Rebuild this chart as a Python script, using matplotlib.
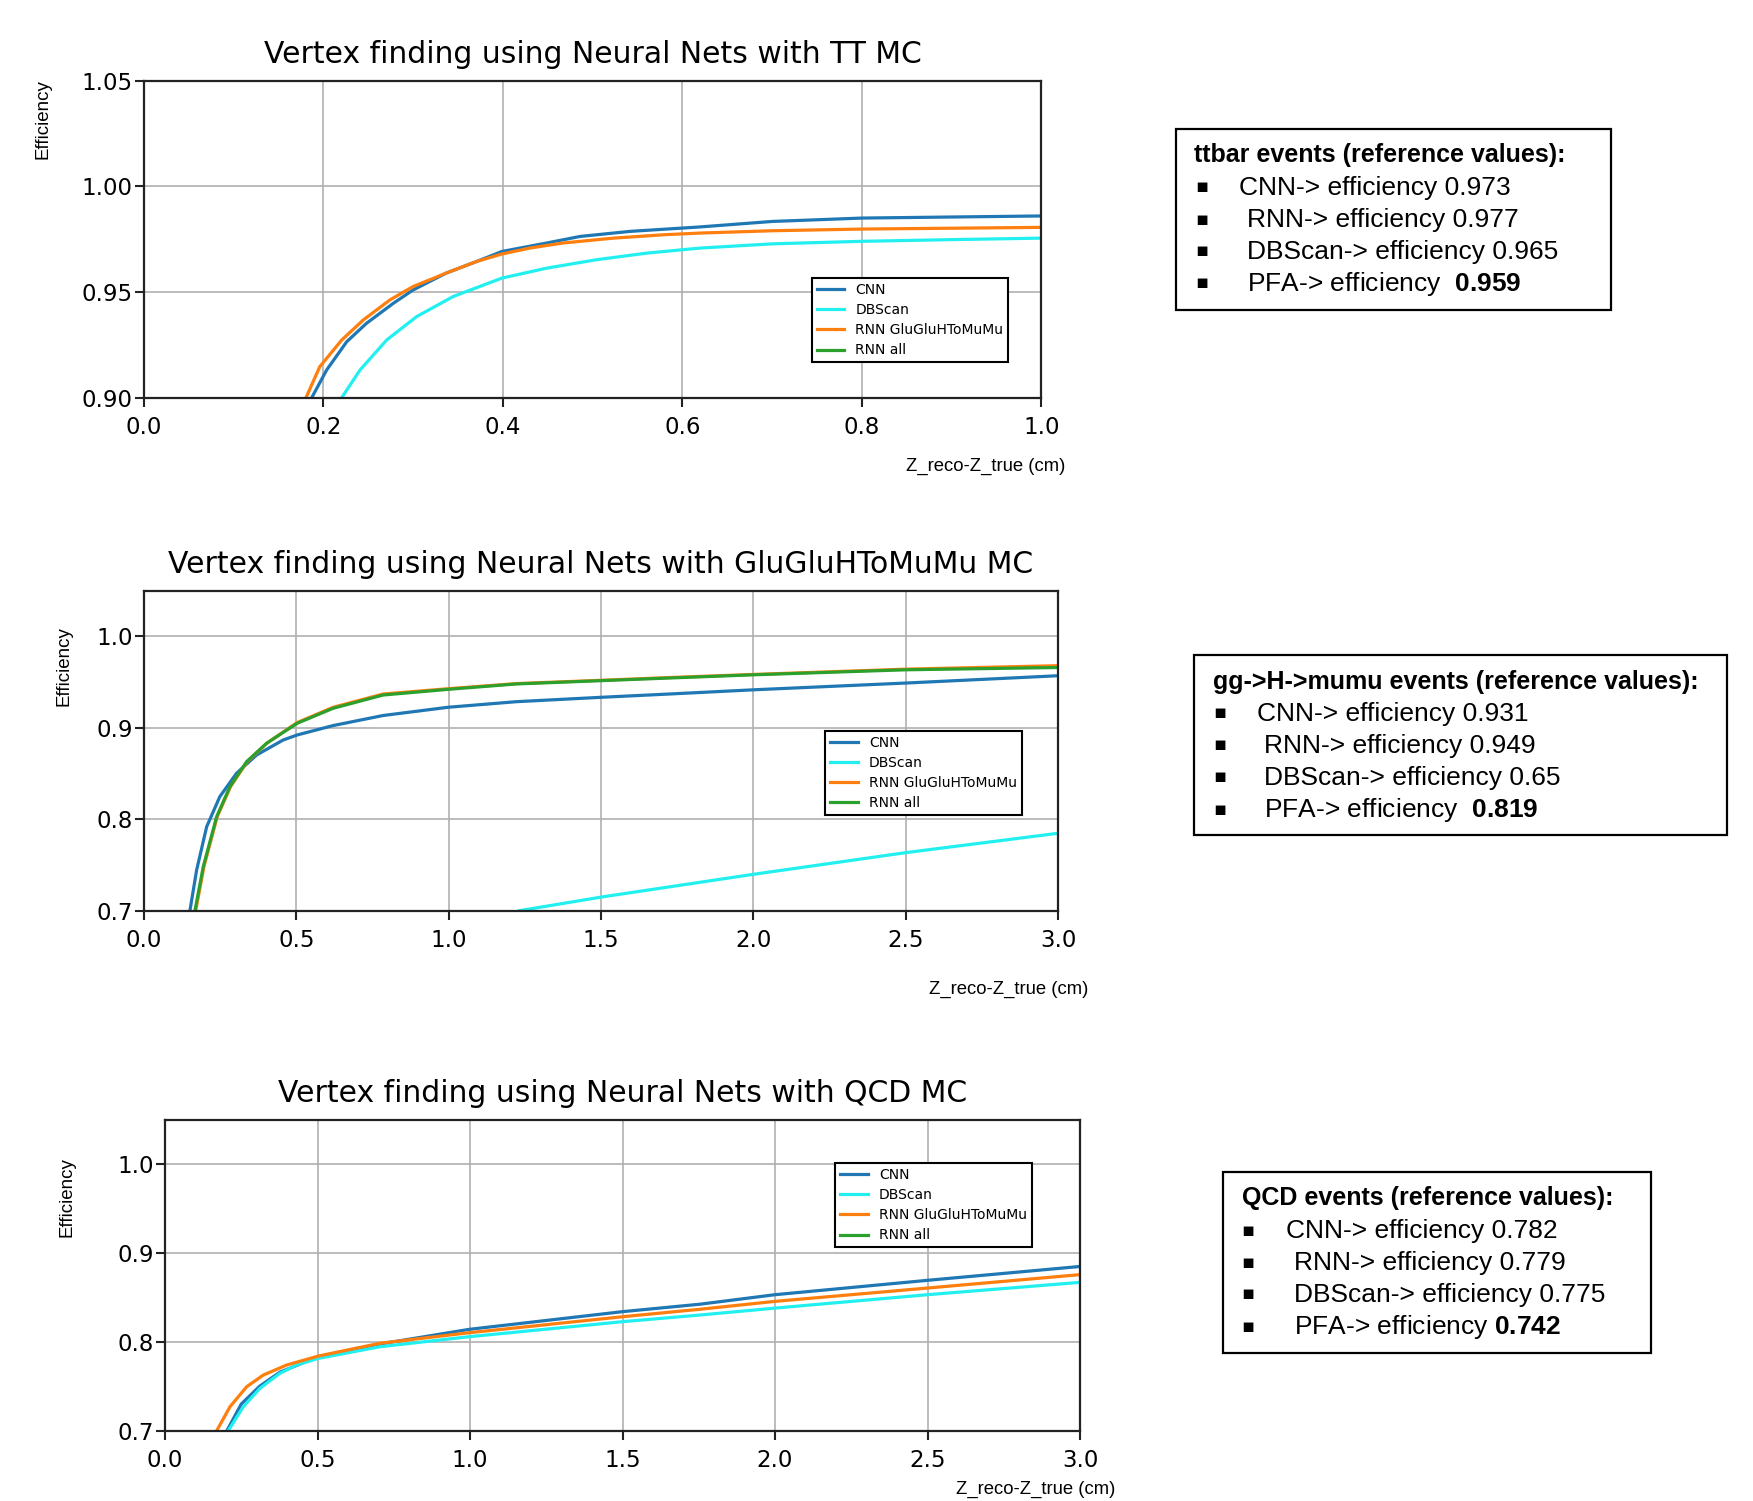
import matplotlib
matplotlib.use('Agg')
import matplotlib.pyplot as plt
from matplotlib.patches import Rectangle

W, H = 1753, 1501

plt.rcParams['font.family'] = 'DejaVu Sans'
plt.rcParams['mathtext.fontset'] = 'custom'
plt.rcParams['mathtext.rm'] = 'Liberation Sans'
plt.rcParams['mathtext.bf'] = 'Liberation Sans:bold'

labels = ['CNN', 'DBScan', 'RNN GluGluHToMuMu', 'RNN all']
colors = ['#1f77b4', '#22f0f0', '#ff7f0e', '#2ca02c']

# --- TT MC curves ---
tt_cnn_x = [0.187, 0.2036, 0.226, 0.248, 0.278, 0.300, 0.337, 0.371, 0.399, 0.4488, 0.486, 0.5416,
            0.6196, 0.70, 0.80, 0.90, 1.0]
tt_cnn_y = [0.900, 0.9131, 0.9265, 0.9352, 0.9447, 0.951, 0.959, 0.9645, 0.9692, 0.9732, 0.9763, 0.9787,
            0.9808, 0.9834, 0.985, 0.9855, 0.986]
tt_dbs_x = [0.2204, 0.2408, 0.2705, 0.304, 0.3447, 0.399, 0.4488, 0.5045, 0.560, 0.6196, 0.70, 0.80, 0.90, 1.0]
tt_dbs_y = [0.900, 0.9131, 0.9273, 0.9384, 0.9479, 0.9566, 0.9613, 0.9653, 0.9684, 0.9708, 0.9728, 0.974,
            0.9748, 0.9755]
tt_rnn_x = [0.1806, 0.196, 0.2204, 0.2445, 0.2742, 0.300, 0.337, 0.371, 0.399, 0.430, 0.467, 0.523, 0.579,
            0.6196, 0.70, 0.80, 0.90, 1.0]
tt_rnn_y = [0.900, 0.9147, 0.9273, 0.9368, 0.9463, 0.9526, 0.959, 0.9645, 0.968, 0.9708, 0.9732, 0.9755,
            0.9771, 0.9779, 0.979, 0.9798, 0.9802, 0.9806]
tt_all_x = []
tt_all_y = []

# --- GluGluHToMuMu MC curves ---
gg_cnn_x = [0.151, 0.173, 0.206, 0.249, 0.304, 0.3697, 0.457, 0.503, 0.621, 0.785, 0.998, 1.222, 1.5,
            1.724, 2.0, 2.5, 3.0]
gg_cnn_y = [0.700, 0.7445, 0.7919, 0.8247, 0.8503, 0.8703, 0.8867, 0.8922, 0.9025, 0.9135, 0.9225, 0.9286,
            0.9334, 0.937, 0.9416, 0.949, 0.957]
gg_dbs_x = [1.232, 1.508, 2.0, 2.5, 3.0]
gg_dbs_y = [0.700, 0.7153, 0.7398, 0.7635, 0.7847]
gg_rnn_x = [0.170, 0.197, 0.2406, 0.2842, 0.339, 0.4045, 0.503, 0.621, 0.785, 0.998, 1.222, 1.5, 1.724,
            2.0, 2.5, 3.0]
gg_rnn_y = [0.700, 0.7481, 0.8028, 0.8356, 0.863, 0.8835, 0.9058, 0.9225, 0.937, 0.9428, 0.9484, 0.952,
            0.955, 0.9584, 0.9642, 0.968]
gg_all_x = [0.1675, 0.1947, 0.2386, 0.2822, 0.337, 0.4025, 0.503, 0.621, 0.785, 0.998, 1.222, 1.5, 1.724,
            2.0, 2.5, 3.0]
gg_all_y = [0.700, 0.7481, 0.8028, 0.8356, 0.863, 0.8831, 0.905, 0.9214, 0.9359, 0.9421, 0.948, 0.9516,
            0.9545, 0.958, 0.9635, 0.966]

# --- QCD MC curves ---
qcd_cnn_x = [0.203, 0.25, 0.31, 0.377, 0.503, 0.705, 0.998, 1.5, 1.754, 2.0, 2.5, 3.0]
qcd_cnn_y = [0.700, 0.730, 0.750, 0.766, 0.7833, 0.7977, 0.8142, 0.8341, 0.8425, 0.8532, 0.8694, 0.885]
qcd_dbs_x = [0.2076, 0.2568, 0.3115, 0.377, 0.4317, 0.503, 0.705, 0.998, 1.5, 1.754, 2.0, 2.5, 3.0]
qcd_dbs_y = [0.700, 0.727, 0.7478, 0.7647, 0.774, 0.7815, 0.7946, 0.8059, 0.8228, 0.8303, 0.8381, 0.8532,
             0.8671]
qcd_rnn_x = [0.1695, 0.2131, 0.268, 0.3224, 0.399, 0.503, 0.705, 0.998, 1.5, 1.754, 2.0, 2.5, 3.0]
qcd_rnn_y = [0.700, 0.727, 0.7496, 0.7627, 0.774, 0.7841, 0.7985, 0.8104, 0.8284, 0.8368, 0.8457, 0.8607,
             0.8758]
qcd_all_x = []
qcd_all_y = []

# --- reference value boxes ---
ref_methods = ['CNN', 'RNN', 'DBScan', 'PFA']
tt_header = 'ttbar events (reference values):'
tt_eff = ['0.973', '0.977', '0.965', '0.959']
gg_header = 'gg->H->mumu events (reference values):'
gg_eff = ['0.931', '0.949', '0.65', '0.819']
qcd_header = 'QCD events (reference values):'
qcd_eff = ['0.782', '0.779', '0.775', '0.742']

fig = plt.figure(figsize=(W / 100, H / 100), dpi=100)


def fx(x):
    return x / W


def fy(y):
    return 1 - y / H


def panel(box, title, xlim, xticks, ylim, yticks, series, anchor, ylab_pos, xlab_pos):
    l, t, r, b = box
    ax = fig.add_axes([fx(l), fy(b), (r - l) / W, (b - t) / H])
    for (x, y), lab, c in zip(series, labels, colors):
        ax.plot(x, y, color=c, lw=2.3, label=lab)
    ax.set_xlim(*xlim)
    ax.set_ylim(*ylim)
    ax.set_xticks(xticks)
    ax.set_yticks(yticks)
    ax.grid(True, color='#b0b0b0', lw=1.2)
    for s in ax.spines.values():
        s.set_color('#222222')
        s.set_linewidth(1.6)
    ax.tick_params(axis='both', labelsize=16.5, length=6.5, width=1.5, color='#222222')
    ax.tick_params(axis='x', pad=7)
    ax.tick_params(axis='y', pad=1.5)
    ax.set_title(title, fontsize=21.5, pad=13)
    leg = ax.legend(loc='upper left', bbox_to_anchor=anchor, borderaxespad=0, fontsize=10,
                    fancybox=False, edgecolor='black', framealpha=1, handlelength=2.0,
                    handletextpad=0.8, borderpad=0.35, labelspacing=0.45)
    leg.get_frame().set_linewidth(1.5)
    fig.text(fx(ylab_pos[0]), fy(ylab_pos[1]), 'Efficiency', rotation=90, ha='center',
             va='center', fontsize=13.5, family='Liberation Sans')
    fig.text(fx(xlab_pos[0]), fy(xlab_pos[1]), 'Z_reco-Z_true (cm)', ha='right',
             va=xlab_pos[2], fontsize=13.3, family='Liberation Sans')
    return ax


def ref_box(box, header, effs, bullet_x, cnn_x, other_x, head_x, ys, space):
    l, t, r, b = box
    fig.add_artist(Rectangle((fx(l), fy(b)), (r - l) / W, (b - t) / H, transform=fig.transFigure,
                             fill=False, ec='black', lw=1.6))
    fig.text(fx(head_x), fy(ys[0]), header, ha='left', va='center', fontsize=18,
             family='Liberation Sans', weight='bold')
    for i, (m, e) in enumerate(zip(ref_methods, effs)):
        y = ys[i + 1]
        fig.text(fx(bullet_x), fy(y - 1), '\u25aa', ha='center', va='center', fontsize=14,
                 family='DejaVu Sans')
        x0 = cnn_x if i == 0 else other_x
        if m == 'PFA':
            s = m + '-> efficiency' + space + r'$\mathbf{' + e + '}$'
        else:
            s = m + '-> efficiency ' + e
        fig.text(fx(x0), fy(y), s, ha='left', va='center', fontsize=19, family='Liberation Sans')


panel((143.9, 80.7, 1041.4, 397.7), 'Vertex finding using Neural Nets with TT MC',
      (0, 1.0), [0.0, 0.2, 0.4, 0.6, 0.8, 1.0], (0.9, 1.05), [0.90, 0.95, 1.00, 1.05],
      [(tt_cnn_x, tt_cnn_y), (tt_dbs_x, tt_dbs_y), (tt_rnn_x, tt_rnn_y), (tt_all_x, tt_all_y)],
      (0.744, 0.378), (43, 119), (1065, 466, 'center'))

panel((143.9, 590.7, 1058.2, 910.7), 'Vertex finding using Neural Nets with GluGluHToMuMu MC',
      (0, 3.0), [0.0, 0.5, 1.0, 1.5, 2.0, 2.5, 3.0], (0.7, 1.05), [0.7, 0.8, 0.9, 1.0],
      [(gg_cnn_x, gg_cnn_y), (gg_dbs_x, gg_dbs_y), (gg_rnn_x, gg_rnn_y), (gg_all_x, gg_all_y)],
      (0.745, 0.5625), (64, 666), (1088, 989, 'center'))

panel((165, 1120, 1080, 1430.7), 'Vertex finding using Neural Nets with QCD MC',
      (0, 3.0), [0.0, 0.5, 1.0, 1.5, 2.0, 2.5, 3.0], (0.7, 1.05), [0.7, 0.8, 0.9, 1.0],
      [(qcd_cnn_x, qcd_cnn_y), (qcd_dbs_x, qcd_dbs_y), (qcd_rnn_x, qcd_rnn_y), (qcd_all_x, qcd_all_y)],
      (0.7325, 0.862), (67, 1197), (1115, 1498, 'bottom'))

ref_box((1176, 128.6, 1611, 309.7), tt_header, tt_eff, 1202, 1239, 1247, 1194,
        [155.4, 187.8, 220.2, 251.6, 284], '  ')
ref_box((1194, 655, 1727, 835), gg_header, gg_eff, 1220, 1257, 1264, 1213,
        [682, 714, 746, 778, 810.5], '  ')
ref_box((1223, 1172, 1651, 1353), qcd_header, qcd_eff, 1248, 1286, 1294, 1242,
        [1198.5, 1231, 1263, 1294.6, 1327], ' ')

fig.savefig('out.png', dpi=100)
